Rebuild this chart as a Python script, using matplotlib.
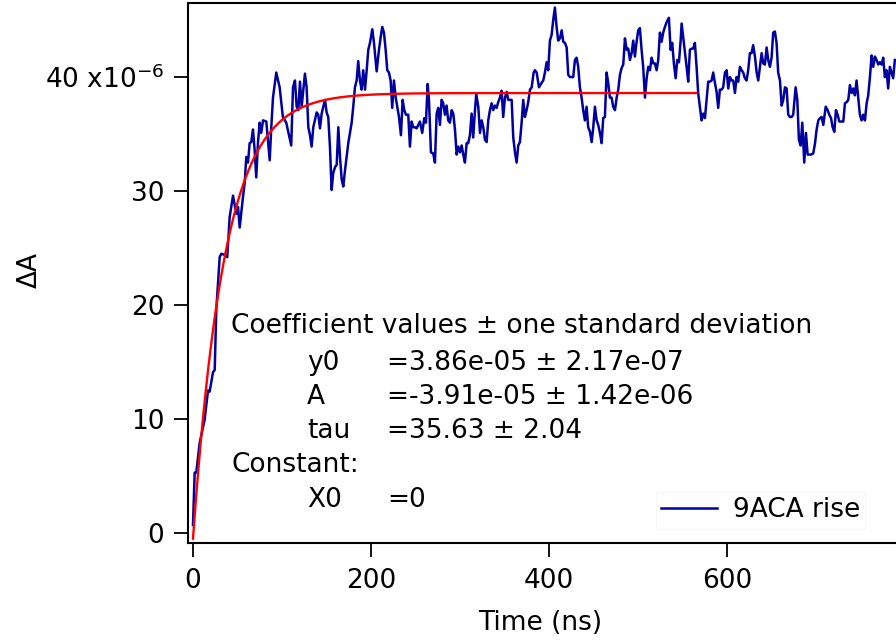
import numpy as np
import matplotlib
matplotlib.use("Agg")
import matplotlib.pyplot as plt

# 9ACA rise trace (time in ns, dA in units of 1e-6)
time_ns = [0, 1.9, 3.7, 7.5, 13, 16.9, 18.7, 22.5, 24.4, 26.2, 30, 31.8, 35.6, 38.5,
           41.2, 45, 48.7, 50.6, 52.5, 56.2, 58.1, 59.9, 61.8, 63.7, 65.5, 67.4, 69.3,
           71.1, 73, 74.9, 76.7, 78.7, 82.4, 86.2, 88, 89.9, 93.6, 97.4, 101, 104.8,
           110.4, 112.4, 114.6, 116.5, 118.4, 120.2, 122.1, 124, 125.8, 127.7, 129.6,
           131.5, 133.3, 135.2, 139, 140.8, 142.7, 144.6, 146.4, 148.3, 150.2, 152,
           153.9, 155.8, 157.6, 159.6, 161.5, 163.3, 165.2, 167.1, 168.9, 170.8, 172.7,
           174.5, 176.4, 178.3, 180.1, 182, 183.9, 185.7, 187.6, 189.5, 191.3, 193.3,
           195.2, 197, 198.9, 201.5, 203.4, 206.4, 209, 210.9, 212.7, 214.6, 216.5,
           218.3, 220.2, 222.1, 223.9, 225.8, 227.8, 229.6, 231.5, 233.7, 235.6, 237.4,
           239.3, 241.9, 243.8, 245.7, 247.5, 249.4,
           251.3, 253.2, 255, 257.6, 259.9, 261.8, 263.7, 265.2, 267.4, 270, 271.9,
           273.8, 275.6, 277.5, 279.4, 281.2, 283.1, 285, 286.8, 288.8, 290.7, 292.5,
           294.4, 296.3, 298.1, 300, 301.9, 303.7, 305.6, 307.5, 309.3, 311.2, 313.1,
           314.9, 316.9, 318.3, 320.6, 322.5, 324.4, 326.2, 328.1, 330, 331.8, 333.7,
           335.6, 337.4, 339.3, 341.2, 343, 344.9, 346.8, 348.6, 350.6, 352.5, 354.3,
           356.2, 358.1, 359.9, 361.8, 363.7, 365.5, 367.4, 369.3, 371.1, 373, 374.9,
           376.7, 378.7, 380.6, 382.8,
           384.3, 386.2, 388.8, 391.8, 393.6, 395.5, 397.4, 399.2, 401.1, 403, 404.8,
           406.7, 408.6, 410.4, 412.4, 414.3, 416.1, 418, 419.9, 421.7, 423.6, 425.5,
           427.3, 429.2, 431.1, 432.9, 434.8, 436.7, 438.5, 440.4, 442.3, 444.1, 446.1,
           448, 449.8, 451.7, 453.6, 455.4, 457.3, 459.2, 461, 462.9, 464.8, 466.6,
           468.5, 470.4, 472.2, 474.2, 476.1, 477.9, 479.8, 481.7, 483.5, 485.4, 487.3,
           489.1, 491, 492.9, 494.7, 496.6, 498.5, 500.3, 502.2, 504.1, 505.9, 507.9,
           509.8, 511.6, 513.5, 515.4, 517.2,
           519.1, 521, 522.8, 524.7, 526.6, 528.4, 530.3, 532.2, 534.8, 536.7, 538.5,
           540.4, 542.4, 544.2, 546.1, 548, 549.1, 550.9, 552.8, 554.7, 556.5, 558.4,
           560.3, 562.1, 564, 565.9, 567.7, 569.6, 571.5, 573.3, 575.3, 577.2, 579,
           580.9, 582.8, 584.6, 586.5, 588.4, 590.2, 592.1, 594, 595.8, 597.8, 599.7,
           601.5, 603.4, 605.3, 607.1, 609, 610.9, 612.7, 614.6, 616.5, 618.3, 620.2,
           622.1, 623.9, 625.8, 627.7, 629.5, 631.5, 633.4, 635.2, 637.1, 639, 640.8,
           642.7, 644.6, 646.4, 648.3, 650.2, 652,
           653.9, 655.8, 657.6, 659.6, 661.5, 663.3, 665.2, 667.1, 668.9, 670.8, 672.7,
           674.5, 677.2, 679.1, 680.9, 682.8, 684.7, 686.9, 688.8, 690.7, 692.6, 694.4,
           697, 699, 700.8, 702.7, 704.6, 706.4, 708.3, 711, 713.2, 715, 717, 718.8,
           720.7, 722.5, 724.4, 726.3, 728.1, 730.8, 732.6, 734.5, 736.4, 738.2, 740.1,
           742, 743.8, 745.7, 747.5, 749.4, 751.3, 753.1, 755.1, 757, 758.8, 760.7,
           762.6, 764.4, 766.3, 768.2, 770, 771.9, 773.8, 775.6, 777.5, 779.4, 781.2,
           783.1, 785, 786.8, 788.7]

dA_micro = [0.7, 5.3, 5.3, 7.9, 9.9, 12.5, 12.4, 14.1, 14.3, 19.6, 24.2, 24.5, 24.4, 24.2,
            27.7, 29.6, 28.0, 28.6, 26.8, 29.5, 30.7, 33.0, 32.5, 34.2, 34.3, 35.4, 33.6,
            31.2, 34.2, 36.0, 35.1, 36.2, 36.1, 32.7, 35.6, 38.2, 40.4, 39.1, 36.5, 36.0,
            34.0, 39.1, 39.7, 37.4, 37.1, 39.6, 37.4, 38.9, 40.3, 39.1, 35.6,
            34.9, 33.9, 35.6, 36.9, 36.7, 35.5, 36.8, 37.4, 38.0, 36.9, 36.5,
            33.9, 30.1, 31.6, 32.1, 32.3, 35.6, 33.0, 31.0, 30.4, 31.8, 33.0,
            34.2, 35.1, 36.0, 37.4, 39.1, 39.7, 41.4, 39.7, 38.9, 40.6, 38.9,
            40.6, 42.4, 43.0, 44.2, 43.0, 40.5, 42.4, 43.5, 44.4, 43.9, 42.4,
            40.6, 40.4, 39.7, 37.3, 39.7, 38.2, 37.4, 36.5, 34.9, 38.0, 37.1,
            36.7, 36.7, 33.9, 36.1, 35.6, 35.6,
            35.5, 35.8, 36.1, 35.1, 36.4, 36.0, 39.4, 38.0, 33.4, 33.3, 32.5,
            36.8, 37.3, 35.8, 38.0, 37.7, 36.7, 37.5, 36.2, 36.0, 37.1, 36.8,
            35.4, 33.2, 33.9, 33.4, 34.0, 33.2, 32.5, 34.2, 34.2, 34.9, 36.8,
            34.7, 37.1, 38.5, 37.4, 35.1, 36.2, 35.6, 34.5, 34.3, 36.2, 37.1,
            37.7, 37.1, 37.5, 37.3, 37.8, 38.2, 38.8, 36.5, 38.2, 38.7, 38.0,
            38.0, 38.0, 34.7, 33.4, 32.5, 34.0, 34.3, 36.0, 38.0, 36.5, 37.1,
            37.8, 38.9, 39.1, 40.4,
            40.6, 40.4, 39.1, 39.5, 39.7, 40.4, 41.3, 40.6, 43.2, 43.7, 45.0,
            46.1, 44.4, 43.2, 43.4, 44.1, 43.1, 43.0, 42.6, 40.2, 40.0, 40.0,
            40.0, 41.5, 41.7, 40.9, 39.1, 38.2, 37.1, 36.2, 37.4, 35.6, 35.2,
            34.3, 35.6, 37.4, 36.2, 35.8, 35.1, 34.2, 36.4, 36.5, 40.4, 39.5,
            38.2, 38.2, 37.4, 37.1, 38.2, 38.9, 40.2, 40.8, 41.1, 43.4, 42.4,
            42.5, 41.5, 42.1, 43.2, 41.8, 43.1, 44.1, 44.3, 42.4, 40.9, 38.2,
            39.9, 40.9, 40.6, 41.7, 41.2,
            41.2, 40.6, 41.5, 43.9, 43.1, 43.9, 44.4, 44.8, 45.2, 42.4, 43.0,
            41.2, 39.9, 41.5, 41.3, 43.2, 44.7, 43.5, 42.2, 40.9, 39.6, 42.4,
            42.5, 42.5, 43.0, 40.9, 38.6, 37.4, 36.2, 36.8, 36.4, 38.0, 39.6,
            39.6, 39.7, 40.4, 39.5, 38.7, 37.3, 38.9, 38.9, 39.1, 40.4, 40.6,
            39.0, 40.0, 39.7, 39.7, 38.6, 40.0, 39.6, 40.9, 40.6, 40.4, 39.9,
            39.7, 40.6, 42.1, 42.1, 42.8, 41.8, 40.4, 39.7, 40.9, 42.1, 41.2,
            41.1, 42.6, 41.5, 40.9, 41.7, 43.9,
            44.0, 43.0, 40.4, 39.7, 37.5, 38.0, 39.1, 39.0, 36.7, 36.5, 36.5,
            36.7, 39.1, 38.0, 34.5, 34.0, 36.0, 32.5, 35.1, 33.2, 33.2, 33.2,
            33.3, 34.2, 35.4, 36.2, 36.4, 36.5, 35.8, 37.4, 37.1, 36.7, 36.4, 35.6,
            35.2, 37.1, 36.7, 36.1, 36.1, 36.1, 37.7, 37.8, 38.0, 39.3, 38.6,
            39.0, 38.4, 39.7, 38.2, 36.7, 36.2, 36.7, 36.2, 37.7, 38.4, 40.0,
            41.9, 40.9, 41.8, 41.5, 41.1, 41.3, 41.1, 41.7, 40.0, 40.6, 39.0,
            40.9, 40.4, 39.9, 41.5]

# fit coefficients shown on the chart
y0 = 3.86e-05
A = -3.91e-05
tau = 35.63
fit_end = 566

coef_lines = ["Coefficient values \u00b1 one standard deviation",
              "y0", "A", "tau", "Constant:", "X0"]
coef_values = ["", "=3.86e-05 \u00b1 2.17e-07", "=-3.91e-05 \u00b1 1.42e-06",
               "=35.63 \u00b1 2.04", "", "=0"]

FS = 19
plt.rcParams['font.family'] = ['DejaVu Sans']

W, H = 896, 643
fig = plt.figure(figsize=(W / 100, H / 100), dpi=100)
ax = fig.add_axes([188 / W, 1 - 543 / H, (W - 188) / W, (543 - 3) / H])

t = np.array(time_ns)
ax.plot(t, np.array(dA_micro) * 1e-6, color='#0000a0', lw=1.8, label='9ACA rise')

t_fit = np.linspace(0, fit_end, 600)
ax.plot(t_fit, y0 + A * np.exp(-t_fit / tau), color='#ff0000', lw=1.7)

ax.set_xlim(-5.6, 790)
ax.set_ylim(-0.88e-6, 46.5e-6)
ax.set_xticks([0, 200, 400, 600])
ax.set_yticks(np.array([0, 10, 20, 30, 40]) * 1e-6)
ax.set_yticklabels(['0', '10', '20', '30', '40 x10$^{\\mathregular{-6}}$'])

ax.spines['right'].set_visible(False)
for s in ['left', 'bottom', 'top']:
    ax.spines[s].set_linewidth(1.5)
ax.tick_params(direction='out', length=10, width=1.3, labelsize=FS, colors='black')
ax.tick_params(axis='y', pad=7)
ax.tick_params(axis='x', pad=8)

ax.set_xlabel('Time (ns)', fontsize=FS)
ax.xaxis.set_label_coords((540 - 188) / (W - 188), (543 - 623) / 540)
ax.xaxis.label.set_va('center')
ax.set_ylabel('\u0394A', fontsize=FS)
ax.yaxis.set_label_coords((30 - 188) / (W - 188), (543 - 270) / 540)
ax.yaxis.label.set_va('center')

# fit report text
rows_y = [326, 363, 397, 431, 465, 500]
for i, (lbl, val) in enumerate(zip(coef_lines, coef_values)):
    x0 = 231 if i in (0, 4) else 307
    fig.text(x0 / W, 1 - rows_y[i] / H, lbl, fontsize=FS, va='center', ha='left')
    if val:
        fig.text(387 / W, 1 - rows_y[i] / H, val, fontsize=FS, va='center', ha='left')

leg = ax.legend(loc='upper left', bbox_to_anchor=(656 / W, 1 - 492 / H),
                bbox_transform=fig.transFigure, fontsize=FS, frameon=True,
                fancybox=False, edgecolor='#f4f4f4', handlelength=2.1,
                borderpad=0.2, borderaxespad=0, handletextpad=0.6)
leg.get_frame().set_linewidth(0.8)

fig.savefig('out.png', dpi=100)
